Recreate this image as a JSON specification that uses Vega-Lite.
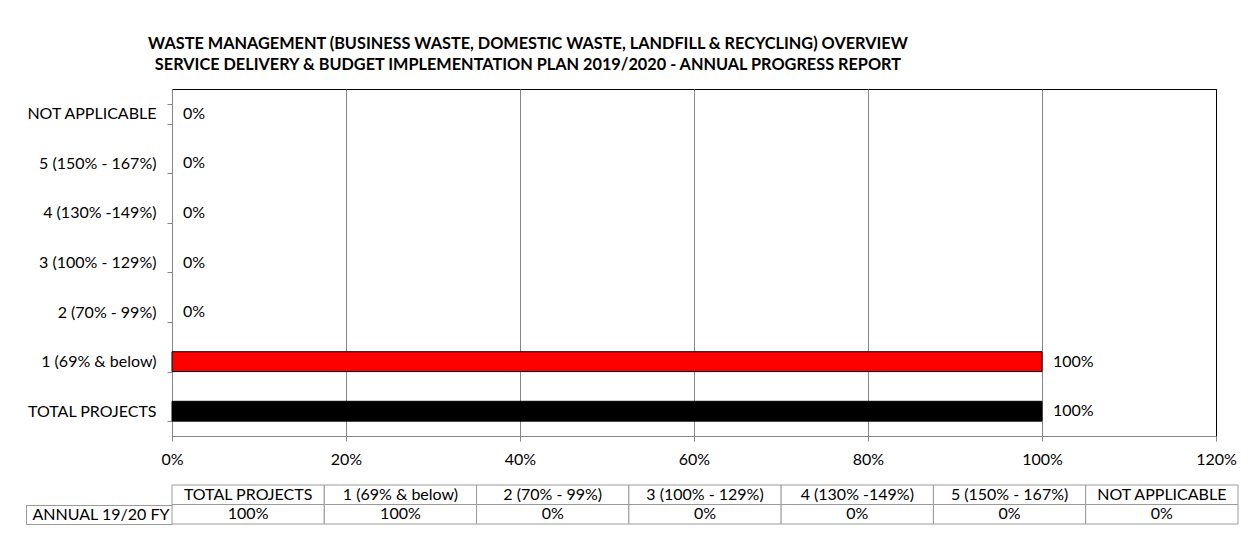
{
  "$schema": "https://vega.github.io/schema/vega-lite/v6.json",
  "padding": {"left": 25, "top": 35, "right": 5, "bottom": 5},
  "background": "white",
  "title": {
    "text": ["WASTE MANAGEMENT (BUSINESS WASTE, DOMESTIC WASTE, LANDFILL & RECYCLING) OVERVIEW", "SERVICE DELIVERY & BUDGET IMPLEMENTATION PLAN 2019/2020 - ANNUAL PROGRESS REPORT"],
    "anchor": "middle", "dx": -104, "dy": 1, "font": "Lato", "fontSize": 16.3, "fontWeight": "bold",
    "lineHeight": 21.5, "offset": 8, "color": "black"
  },
  "config": {"font": "Lato", "view": {"stroke": null}},
  "datasets": {
    "d": [
      {"category": "TOTAL PROJECTS", "value": 1},
      {"category": "1 (69% & below)", "value": 1},
      {"category": "2 (70% - 99%)", "value": 0},
      {"category": "3 (100% - 129%)", "value": 0},
      {"category": "4 (130% -149%)", "value": 0},
      {"category": "5 (150% - 167%)", "value": 0},
      {"category": "NOT APPLICABLE", "value": 0}
    ]
  },
  "spacing": 9,
  "resolve": {"scale": {"x": "independent", "y": "independent"}},
  "vconcat": [
    {
      "width": 1044, "height": 347,
      "data": {"name": "d"},
      "view": {"stroke": "black", "strokeWidth": 1},
      "encoding": {
        "y": {
          "field": "category", "type": "nominal",
          "sort": ["NOT APPLICABLE", "5 (150% - 167%)", "4 (130% -149%)", "3 (100% - 129%)", "2 (70% - 99%)", "1 (69% & below)", "TOTAL PROJECTS"],
          "scale": {"paddingInner": 0.6, "paddingOuter": 0.3},
          "axis": {"title": null, "tickBand": "extent", "tickSize": 5, "labelPadding": 11, "labelFontSize": 16, "labelColor": "black", "domainColor": "#868686", "tickColor": "#868686", "minExtent": 146, "maxExtent": 146, "labelLimit": 200}
        },
        "x": {
          "field": "value", "type": "quantitative",
          "scale": {"domain": [0, 1.2], "nice": false},
          "axis": {"title": null, "format": ".0%", "values": [0, 0.2, 0.4, 0.6, 0.8, 1.0, 1.2], "grid": true,
            "gridColor": {"condition": {"test": "datum.value >= 1.19", "value": "black"}, "value": "#868686"},
            "tickSize": 5, "tickColor": "#868686", "domainColor": "#868686", "labelPadding": 10, "labelFontSize": 16, "labelColor": "black", "labelFlush": false}
        }
      },
      "layer": [
        {
          "transform": [{"filter": "datum.value > 0"}],
          "mark": {"type": "bar", "stroke": "black", "strokeWidth": 1},
          "encoding": {
            "color": {"field": "category", "type": "nominal", "legend": null,
              "scale": {"domain": ["TOTAL PROJECTS", "1 (69% & below)", "2 (70% - 99%)", "3 (100% - 129%)", "4 (130% -149%)", "5 (150% - 167%)", "NOT APPLICABLE"],
                "range": ["#000000", "#ff0000", "#ff0000", "#ff0000", "#ff0000", "#ff0000", "#ff0000"]}}
          }
        },
        {
          "mark": {"type": "text", "align": "left", "dx": 11, "fontSize": 16, "color": "black"},
          "encoding": {"text": {"field": "value", "type": "quantitative", "format": ".0%"}}
        }
      ]
    },
    {
      "width": 1066, "height": 39,
      "data": {"name": "d"},
      "resolve": {"scale": {"y": "independent"}, "axis": {"y": "independent"}},
      "encoding": {
        "x": {"field": "category", "type": "nominal",
          "sort": ["TOTAL PROJECTS", "1 (69% & below)", "2 (70% - 99%)", "3 (100% - 129%)", "4 (130% -149%)", "5 (150% - 167%)", "NOT APPLICABLE"],
          "scale": {"paddingInner": 0, "paddingOuter": 0}, "axis": null}
      },
      "layer": [
        {
          "layer": [
            {"mark": {"type": "rect", "fill": "white", "stroke": "#9a9a9a"},
             "encoding": {"y": {"datum": "h", "type": "nominal", "scale": {"domain": ["h", "v"], "paddingInner": 0, "paddingOuter": 0},
               "axis": {"orient": "left", "title": null, "domain": false, "tickBand": "extent", "tickSize": 146,
                 "tickColor": {"condition": {"test": "!!datum.extra", "value": "transparent"}, "value": "#9a9a9a"},
                 "labelExpr": "datum.value === 'v' ? 'ANNUAL 19/20 FY' : ''", "labelAlign": "left", "labelPadding": -6,
                 "labelFontSize": 16, "labelColor": "black", "minExtent": 146, "maxExtent": 146}}}},
            {"mark": {"type": "rect", "fill": "white", "stroke": "#9a9a9a"},
             "encoding": {"y": {"datum": "v", "type": "nominal"}}},
            {"mark": {"type": "text", "fontSize": 16, "color": "black"},
             "encoding": {"y": {"datum": "h", "type": "nominal"}, "text": {"field": "category", "type": "nominal"}}},
            {"mark": {"type": "text", "fontSize": 16, "color": "black"},
             "encoding": {"y": {"datum": "v", "type": "nominal"}, "text": {"field": "value", "type": "quantitative", "format": ".0%"}}}
          ]
        },
        {
          "mark": {"type": "text", "opacity": 0},
          "encoding": {
            "y": {"datum": "v", "type": "nominal", "scale": {"domain": ["h", "v"], "paddingInner": 0, "paddingOuter": 0},
              "axis": {"orient": "left", "title": null, "offset": 146, "labels": false, "ticks": false, "domain": true,
                "domainColor": "#9a9a9a", "domainDash": [0, 19.5, 20, 0], "minExtent": 0, "maxExtent": 0}},
            "text": {"value": ""}
          }
        }
      ]
    }
  ]
}
